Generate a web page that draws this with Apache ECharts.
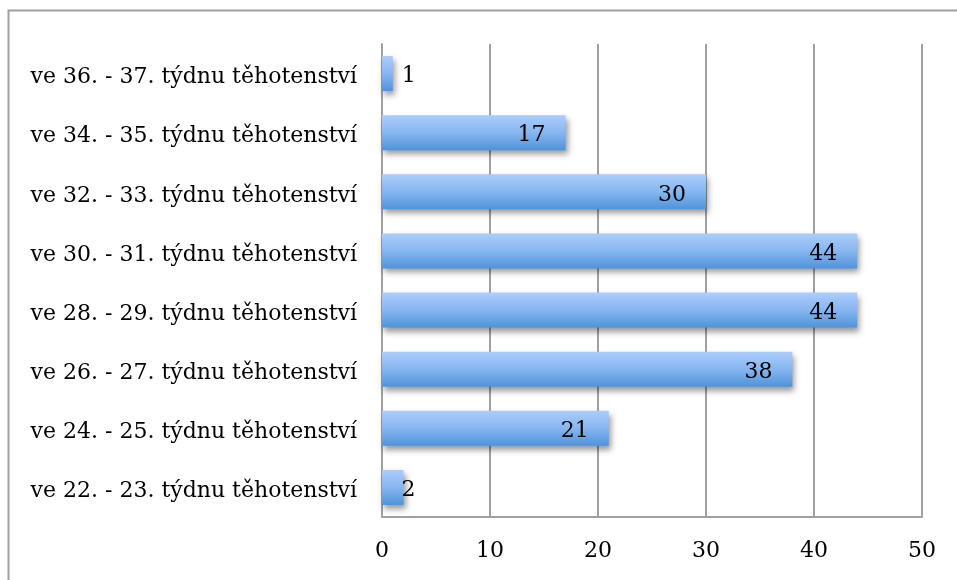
<!DOCTYPE html>
<html>
<head>
<meta charset="utf-8">
<script src="https://cdn.jsdelivr.net/npm/echarts@6/dist/echarts.min.js"></script>
<style>
  html, body { margin: 0; padding: 0; background: #fff; }
  #chart { width: 957px; height: 580px; }
</style>
</head>
<body>
<div id="chart"></div>
<script>
// Week-of-pregnancy categories, listed bottom to top
const categories = [
  've 22. - 23. týdnu těhotenství',
  've 24. - 25. týdnu těhotenství',
  've 26. - 27. týdnu těhotenství',
  've 28. - 29. týdnu těhotenství',
  've 30. - 31. týdnu těhotenství',
  've 32. - 33. týdnu těhotenství',
  've 34. - 35. týdnu těhotenství',
  've 36. - 37. týdnu těhotenství'
];
const counts = [2, 21, 38, 44, 44, 30, 17, 1];
const axisTicks = [0, 10, 20, 30, 40, 50];

const FONT = '"DejaVu Serif", "Liberation Serif", serif';
const GRID = '#a0a0a0';

const chart = echarts.init(document.getElementById('chart'), null, { renderer: 'canvas' });

// Short bars keep their label just past the bar end
function labelFor(v) {
  if (v <= 2) {
    return { position: 'right', distance: v === 1 ? 9 : -2 };
  }
  return { position: 'insideRight', distance: 20 };
}

chart.setOption({
  animation: false,
  backgroundColor: '#ffffff',
  graphic: [{
    type: 'polyline',
    shape: { points: [[8.5, 590], [8.5, 10.5], [960, 10.5]] },
    style: { stroke: '#a0a0a0', lineWidth: 2, fill: null },
    silent: true
  }],
  grid: { left: 382, right: 35, top: 44, bottom: 63, containLabel: false },
  xAxis: {
    type: 'value',
    min: axisTicks[0],
    max: axisTicks[axisTicks.length - 1],
    interval: axisTicks[1] - axisTicks[0],
    axisLine: { show: true, lineStyle: { color: GRID, width: 2 } },
    axisTick: { show: false },
    axisLabel: { color: '#000', fontFamily: FONT, fontSize: 22, margin: 23 },
    splitLine: { show: true, lineStyle: { color: GRID, width: 2 } }
  },
  yAxis: {
    type: 'category',
    data: categories,
    axisLine: { show: true, lineStyle: { color: GRID, width: 2 } },
    axisTick: { show: false },
    axisLabel: {
      color: '#000', fontFamily: FONT, fontSize: 22, margin: 25,
      verticalAlign: 'top', lineHeight: 8
    }
  },
  series: [{
    type: 'bar',
    barWidth: 35,
    data: counts.map(v => ({ value: v, label: labelFor(v) })),
    label: {
      show: true,
      color: '#000',
      fontFamily: FONT,
      fontSize: 22,
      offset: [0, 3]
    },
    itemStyle: {
      color: new echarts.graphic.LinearGradient(0, 0, 0, 1, [
        { offset: 0, color: '#abcdfd' },
        { offset: 0.5, color: '#87b6f0' },
        { offset: 1, color: '#4f93da' }
      ]),
      shadowColor: 'rgba(0,0,0,0.4)',
      shadowBlur: 6,
      shadowOffsetX: 2,
      shadowOffsetY: 4
    }
  }]
});
</script>
</body>
</html>
